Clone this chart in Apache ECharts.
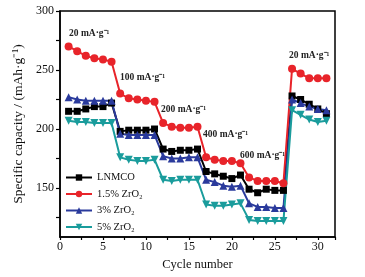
<!DOCTYPE html>
<html><head><meta charset="utf-8">
<script src="https://cdn.jsdelivr.net/npm/echarts@6/dist/echarts.min.js"></script>
<style>html,body{margin:0;padding:0;background:#fff}#c{width:365px;height:277px}</style>
</head><body><div id="c"></div>
<script>
const cycles = [1,2,3,4,5,6,7,8,9,10,11,12,13,14,15,16,17,18,19,20,21,22,23,24,25,26,27,28,29,30,31];
const lnmco = [215,215,217,219,219,222, 198,199,199,199,200, 183,181,182,182,183, 164,162,160,158,161, 149,146,149,148,148, 228,225,221,217,213];
const zr15  = [270,266,262,260,259,257, 230,226,225,224,223, 205,202,201,201,202, 176,174,173,173,171, 159,156,156,156,154, 251,247,243,243,243];
const zr3   = [227,225,224,224,224,224, 196,195,195,195,195, 177,175,175,176,176, 157,155,152,151,152, 137,134,134,133,133, 225,222,219,217,216];
const zr5   = [207,206,206,205,205,205, 176,174,173,173,174, 157,156,157,157,157, 136,135,135,136,137, 123,122,122,122,122, 216,212,208,206,207];
const seriesNames = ['LNMCO','1.5% ZrO\u2082','3% ZrO\u2082','5% ZrO\u2082'];
const rateLabels = ['20 mA\u00b7g\u207b\u00b9','100 mA\u00b7g\u207b\u00b9','200 mA\u00b7g\u207b\u00b9','400 mA\u00b7g\u207b\u00b9','600 mA\u00b7g\u207b\u00b9','20 mA\u00b7g\u207b\u00b9'];
const yTickValues = [125,150,175,200,225,250,275,300];
const yLabelValues = [150,200,250,300];

const FF = "'Liberation Serif','Times New Roman',serif";
const pts = v => cycles.map((c,i)=>[c, v[i]]);
const mk = (name, data, color, symbol, rot, size) => ({
  name, type:'line', data: pts(data), symbol, symbolSize:size, symbolRotate:rot,
  lineStyle:{color, width:2}, itemStyle:{color}, z: 3
});
const chart = echarts.init(document.getElementById('c'), null, {renderer:'canvas'});
const annPos = [[69,29],[120,73],[161,105],[203,130],[240,151],[289,51]];
chart.setOption({
  animation:false,
  grid:{left:60, right:30, top:11, bottom:40, show:true, borderColor:'#000', borderWidth:1.5, backgroundColor:'transparent'},
  xAxis:{type:'value', min:0, max:32, interval:2.5,
    name:'Cycle number', nameLocation:'middle', nameGap:17,
    nameTextStyle:{fontFamily:FF, fontSize:12.5, color:'#111'},
    axisLine:{lineStyle:{color:'#000', width:1.5}},
    axisTick:{inside:false, length:3, lineStyle:{color:'#000', width:1.2}},
    axisLabel:{fontFamily:FF, fontSize:12, color:'#111', margin:4, formatter:v=> (v%5===0 ? String(v) : '')},
    splitLine:{show:false}},
  yAxis:{type:'value', min:108.5, max:300,
    name:'Specific capacity / (mAh\u00b7g\u207b\u00b9)', nameLocation:'middle', nameGap:35,
    nameTextStyle:{fontFamily:FF, fontSize:13.5, color:'#111'},
    axisLine:{show:true, lineStyle:{color:'#000', width:1.5}},
    axisTick:{inside:false, length:4, customValues:yTickValues, lineStyle:{color:'#000', width:1.2}},
    axisLabel:{fontFamily:FF, fontSize:12, color:'#111', margin:6, customValues:yLabelValues},
    splitLine:{show:false}},
  legend:{orient:'vertical', left:60, top:167, itemWidth:26, itemHeight:8, itemGap:5.5,
    textStyle:{fontFamily:FF, fontSize:10.5, color:'#111'}, data:seriesNames},
  series:[
    mk(seriesNames[0], lnmco, '#000000', 'rect', 0, 7),
    mk(seriesNames[1], zr15, '#e8242a', 'circle', 0, 8),
    mk(seriesNames[2], zr3, '#2a3a9c', 'triangle', 0, 8),
    mk(seriesNames[3], zr5, '#1a9c9c', 'triangle', 180, 8)
  ],
  graphic: rateLabels.map((t,i)=>({type:'text', left:annPos[i][0], top:annPos[i][1],
    style:{text:t, fontFamily:FF, fontSize:9.5, fontWeight:'bold', fill:'#222'}}))
});
</script></body></html>
